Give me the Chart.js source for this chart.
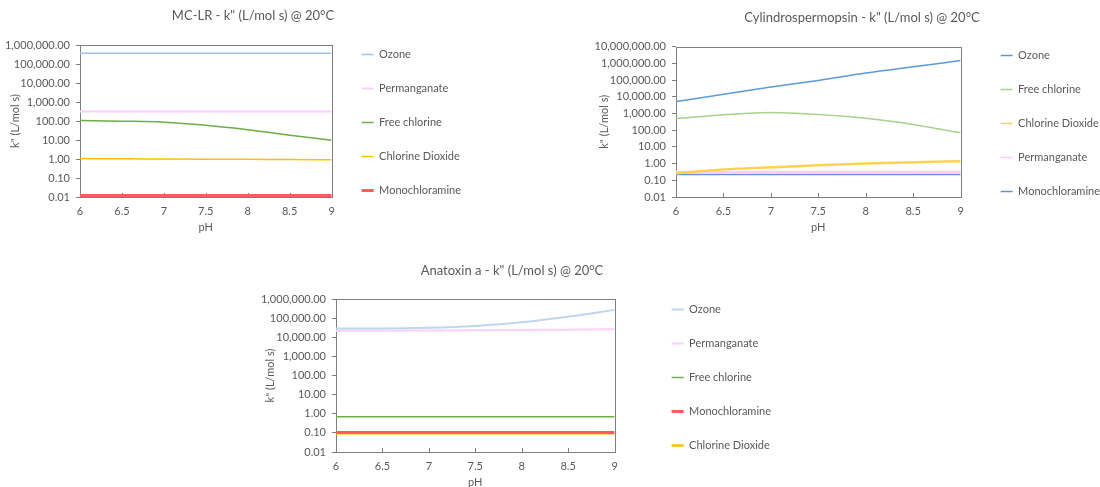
<!DOCTYPE html>
<html>
<head>
<meta charset="utf-8">
<script src="https://cdn.jsdelivr.net/npm/chart.js@4.4.1/dist/chart.umd.min.js"></script>
<style>
  html, body { margin: 0; padding: 0; background: #fff; }
  body { width: 1100px; height: 487px; overflow: hidden; position: relative; }
  .box { position: absolute; }
</style>
</head>
<body>
<div class="box" style="left:0;top:0"><canvas id="mclr" width="506" height="240"></canvas></div>
<div class="box" style="left:590px;top:0"><canvas id="cyl" width="544" height="240"></canvas></div>
<div class="box" style="left:243px;top:255px"><canvas id="ana" width="538" height="240"></canvas></div>
<script>
// axes
const pH = [6, 6.5, 7, 7.5, 8, 8.5, 9];
const xTicks = [6, 6.5, 7, 7.5, 8, 8.5, 9];
const yTicks6 = [0.01, 0.1, 1, 10, 100, 1000, 10000, 100000, 1000000];
const yTicks7 = [0.01, 0.1, 1, 10, 100, 1000, 10000, 100000, 1000000, 10000000];

// MC-LR
const mcOzone = [370000, 370000, 370000, 370000, 370000, 370000, 370000];
const mcPermanganate = [320, 320, 320, 320, 320, 320, 320];
const mcFreeChlorine = [106, 98, 87, 60, 35, 18, 9.8];
const mcChlorineDioxide = [1.05, 1.02, 1.0, 0.98, 0.96, 0.94, 0.92];
const mcMonochloramine = [0.0115, 0.0115, 0.0115, 0.0115, 0.0115, 0.0115, 0.0115];

// Cylindrospermopsin
const cylOzone = [5100, 14000, 38000, 95000, 260000, 620000, 1450000];
const cylFreeChlorine = [490, 830, 1150, 870, 520, 220, 70];
const cylChlorineDioxide = [0.26, 0.45, 0.6, 0.79, 1.0, 1.2, 1.4];
const cylPermanganate = [0.3, 0.3, 0.3, 0.3, 0.3, 0.3, 0.3];
const cylMonochloramine = [0.22, 0.22, 0.22, 0.22, 0.22, 0.22, 0.22];

// Anatoxin a
const anaOzone = [29000, 29000, 31000, 39000, 60000, 120000, 270000];
const anaPermanganate = [21500, 22000, 22500, 23000, 24000, 25000, 26500];
const anaFreeChlorine = [0.7, 0.7, 0.7, 0.7, 0.7, 0.7, 0.7];
const anaMonochloramine = [0.105, 0.105, 0.105, 0.105, 0.105, 0.105, 0.105];
const anaChlorineDioxide = [0.095, 0.095, 0.095, 0.095, 0.095, 0.095, 0.095];

Chart.defaults.font.family = 'Lato, "Open Sans", sans-serif';
Chart.defaults.color = '#595959';

// box round the plot + little inward x ticks
const plotFrame = {
  id: 'plotFrame',
  beforeDatasetsDraw(chart) {
    const a = chart.chartArea, c = chart.ctx, xs = chart.scales.x;
    c.save();
    c.strokeStyle = '#7f7f7f';
    c.lineWidth = 1;
    c.strokeRect(Math.round(a.left) + 0.5, Math.round(a.top) + 0.5, Math.round(a.right - a.left), Math.round(a.bottom - a.top));
    c.beginPath();
    xTicks.forEach(v => {
      const px = Math.round(xs.getPixelForValue(v)) + 0.5;
      c.moveTo(px, a.bottom);
      c.lineTo(px, a.bottom - 4);
    });
    c.stroke();
    c.restore();
  }
};

function line(label, values, color, width) {
  return {
    label: label,
    data: values.map((v, i) => ({ x: pH[i], y: v })),
    borderColor: color,
    backgroundColor: color,
    borderWidth: width,
    pointRadius: 0,
    cubicInterpolationMode: 'monotone'
  };
}

// empty side axis, only used to hold space
function spacer(w, weight) {
  return {
    type: 'linear', position: 'right', weight: weight,
    min: 0, max: 1,
    afterFit: s => { s.width = w; },
    grid: { display: false, drawTicks: false },
    border: { display: false },
    ticks: { display: false }
  };
}

function makeChart(id, o) {
  return new Chart(document.getElementById(id), {
    type: 'line',
    data: { datasets: o.datasets },
    plugins: [plotFrame],
    options: {
      responsive: false,
      animation: false,
      devicePixelRatio: 1,
      layout: { padding: { top: o.padTop, right: 0, bottom: 3, left: 0 } },
      plugins: {
        title: {
          display: true,
          text: o.title,
          color: '#595959',
          font: { size: 13, weight: 'normal' },
          padding: { top: 0, bottom: o.titleGap }
        },
        legend: {
          position: 'right',
          fullSize: true,
          maxWidth: 300,
          labels: {
            boxWidth: 12, boxHeight: 0, padding: 23, color: '#595959', font: { size: 11 },
            generateLabels: chart => Chart.defaults.plugins.legend.labels.generateLabels(chart)
              .map(it => Object.assign(it, { lineWidth: Math.min(it.lineWidth, o.legendLine) }))
          }
        },
        tooltip: { enabled: false }
      },
      scales: {
        x: {
          type: 'linear',
          min: 6, max: 9,
          afterBuildTicks: s => { s.ticks = xTicks.map(v => ({ value: v })); },
          afterFit: s => { s.height = 40; },
          grid: { display: false, drawTicks: false },
          border: { display: false },
          ticks: { padding: 8, font: { size: 11 }, color: '#595959', callback: v => String(v) },
          title: { display: true, text: 'pH', color: '#595959', font: { size: 11 }, padding: { top: 0, bottom: 2.5 } }
        },
        y: {
          type: 'logarithmic',
          min: 0.01, max: o.yMax,
          afterBuildTicks: s => { s.ticks = o.yTicks.map(v => ({ value: v })); },
          afterFit: s => { s.width = o.yWidth; },
          grid: { drawOnChartArea: false, drawTicks: true, tickLength: 4, color: '#7f7f7f' },
          border: { display: false },
          ticks: {
            padding: 6, font: { size: 11 }, color: '#595959',
            callback: v => Number(v).toLocaleString('en-US', { minimumFractionDigits: 2, maximumFractionDigits: 2 })
          },
          title: { display: true, text: 'k" (L/mol s)', color: '#595959', font: { size: 11 }, padding: { top: o.yTitlePad, bottom: 0 } }
        },
        gap: Object.assign({ axis: 'y' }, spacer(o.gap, 0)),
        edge: Object.assign({ axis: 'y' }, spacer(o.edge, 2000))
      }
    }
  });
}

makeChart('mclr', {
  title: 'MC-LR - k" (L/mol s) @ 20°C',
  padTop: 8, titleGap: 21.4, gap: 7, edge: 35, yWidth: 80, yTitlePad: 9, legendLine: 3,
  yMax: 1000000, yTicks: yTicks6,
  datasets: [
    line('Ozone', mcOzone, '#9dc3e6', 1.5),
    line('Permanganate', mcPermanganate, '#fbd0fb', 2),
    line('Free chlorine', mcFreeChlorine, '#70ad47', 1.5),
    line('Chlorine Dioxide', mcChlorineDioxide, '#ffc000', 1.5),
    line('Monochloramine', mcMonochloramine, '#ff5b5b', 3.5)
  ]
});

makeChart('cyl', {
  title: 'Cylindrospermopsin - k" (L/mol s) @ 20°C',
  padTop: 10, titleGap: 21, gap: 17, edge: 24, yWidth: 86, yTitlePad: 7.5, legendLine: 1.5,
  yMax: 10000000, yTicks: yTicks7,
  datasets: [
    line('Ozone', cylOzone, '#5b9bd5', 1.5),
    line('Free chlorine', cylFreeChlorine, '#a9d18e', 1.5),
    line('Chlorine Dioxide', cylChlorineDioxide, '#ffd24d', 2.5),
    line('Permanganate', cylPermanganate, '#fbcdfb', 3),
    line('Monochloramine', cylMonochloramine, '#6a8fd0', 1.5)
  ]
});

makeChart('ana', {
  title: 'Anatoxin a - k" (L/mol s) @ 20°C',
  padTop: 8, titleGap: 20.4, gap: 34, edge: 0, yWidth: 93, yTitlePad: 20.4, legendLine: 3,
  yMax: 1000000, yTicks: yTicks6,
  datasets: [
    line('Ozone', anaOzone, '#bdd7ee', 2),
    line('Permanganate', anaPermanganate, '#fbd0fb', 2),
    line('Free chlorine', anaFreeChlorine, '#70ad47', 1.5),
    line('Monochloramine', anaMonochloramine, '#ff5b5b', 3),
    line('Chlorine Dioxide', anaChlorineDioxide, '#ffc000', 2.5)
  ]
});
</script>
</body>
</html>
